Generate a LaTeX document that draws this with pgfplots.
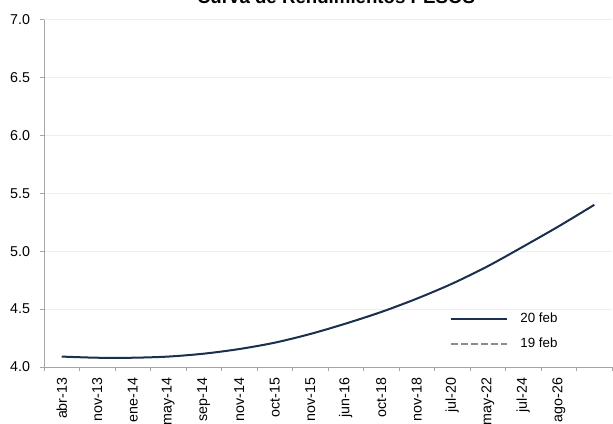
\documentclass[border=0pt]{standalone}
\usepackage{fontspec}
\setmainfont{Liberation Sans}
\usepackage{pgfplots}
\pgfplotsset{compat=1.18}
\definecolor{navy}{HTML}{1B2F4E}
\definecolor{gridc}{HTML}{EEEEEE}
\definecolor{axc}{HTML}{A6A6A6}
\definecolor{dashc}{HTML}{8C8C8C}
\pgfplotstableread{
x y
0 4.090
1 4.080
2 4.080
3 4.090
4 4.115
5 4.155
6 4.210
7 4.285
8 4.375
9 4.475
10 4.590
11 4.720
12 4.870
13 5.040
14 5.215
15 5.400
}\feba
\pgfplotstableread{
x y
0 4.090
1 4.080
2 4.080
3 4.090
4 4.115
5 4.155
6 4.210
7 4.285
8 4.375
9 4.475
10 4.590
11 4.720
12 4.870
13 5.040
14 5.215
15 5.400
}\febb
\begin{document}
\begin{tikzpicture}
\begin{axis}[
  at={(33pt,42.75pt)}, anchor=south west, scale only axis,
  width=426pt, height=260.6pt,
  xmin=-0.5, xmax=15.5, ymin=4, ymax=7,
  font=\fontsize{10.7}{12.5}\selectfont,
  ytick={4,4.5,5,5.5,6,6.5,7},
  yticklabel style={/pgf/number format/fixed, /pgf/number format/fixed zerofill, /pgf/number format/precision=1, xshift=-4pt},
  /pgf/number format/assume math mode=true,
  xtick={0,...,15},
  xticklabels={abr-13,nov-13,ene-14,may-14,sep-14,nov-14,oct-15,nov-15,jun-16,oct-18,nov-18,jul-20,may-22,jul-24,ago-26,{}},
  xticklabel style={rotate=90, anchor=east, xshift=-1.5pt},
  major x tick style={draw=none},
  minor xtick={-0.5,0.5,...,15.5},
  minor x tick style={draw=axc},
  y tick style={draw=axc},
  tick align=outside,
  major tick length=3pt, minor tick length=3pt,
  xtick pos=bottom, ytick pos=left,
  ymajorgrids, grid style={draw=gridc, line width=0.6pt},
  axis x line*=bottom, axis y line*=left,
  axis line style={draw=axc, -, line width=0.6pt},
  reverse legend=true,
  legend style={at={(0.708,0.171)}, anchor=north west, draw=none, fill=none,
    font=\fontsize{10}{12}\selectfont, row sep=6pt, column sep=7pt,
    nodes={fill=white, inner sep=2pt}},
  legend cell align=left,
  legend image code/.code={\draw[#1] (0pt,0pt) -- (42pt,0pt);},
]
\addplot[dashc, line width=0.8pt, dash pattern=on 5pt off 2.5pt, smooth] table[x=x,y=y] {\febb};
\addlegendentry{19 feb}
\addplot[navy, line width=1.5pt, smooth] table[x=x,y=y] {\feba};
\addlegendentry{20 feb}
\end{axis}
\node[anchor=base, font=\bfseries\fontsize{14}{16}\selectfont] at (252pt,315pt) {Curva de Rendimientos PESOS};
\pgfresetboundingbox
\useasboundingbox (0,0) rectangle (459.75pt,318pt);
\end{tikzpicture}
\end{document}
